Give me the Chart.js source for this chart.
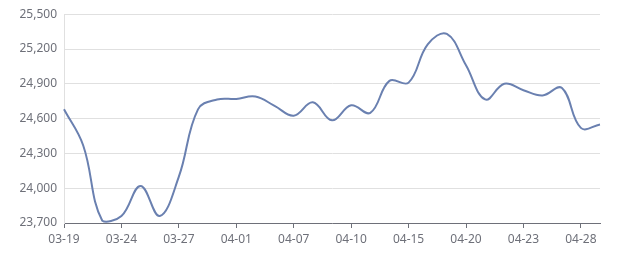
<!DOCTYPE html>
<html>
<head>
<meta charset="utf-8">
<script src="https://cdn.jsdelivr.net/npm/chart.js@4/dist/chart.umd.min.js"></script>
<style>
  html, body { margin: 0; padding: 0; background: #fff; }
  #wrap { width: 640px; height: 270px; position: relative; }
</style>
</head>
<body>
<div id="wrap"><canvas id="myChart"></canvas></div>
<script>
var dates = ["03-19", "03-20", "03-21", "03-24", "03-25", "03-26", "03-27", "03-28", "03-31",
  "04-01", "04-02", "04-03", "04-07", "04-08", "04-09", "04-10", "04-11", "04-14", "04-15",
  "04-16", "04-17", "04-20", "04-21", "04-22", "04-23", "04-24", "04-25", "04-28", "04-29"];
var prices = [24680, 24370, 23720, 23760, 24020, 23760, 24100, 24680, 24765,
  24770, 24790, 24710, 24625, 24740, 24585, 24715, 24650, 24925, 24910,
  25240, 25330, 25060, 24765, 24900, 24845, 24800, 24865, 24520, 24550];
var yMin = 23700;
var yMax = 25500;
var yStep = 300;
var labelEvery = 3;

Chart.defaults.font.family = "'Noto Sans', 'DejaVu Sans', sans-serif";
Chart.defaults.font.size = 12;
Chart.defaults.color = '#6e7079';

var ctx = document.getElementById('myChart').getContext('2d');

var myChart = new Chart(ctx, {
  type: 'line',
  data: {
    labels: dates,
    datasets: [{
      label: 'price',
      data: prices,
      borderColor: '#6a80b0',
      borderWidth: 2,
      pointRadius: 0,
      pointHoverRadius: 0,
      fill: false,
      tension: 0.4
    }]
  },
  options: {
    responsive: true,
    maintainAspectRatio: false,
    animation: false,
    layout: {
      padding: { top: 10, right: 40, left: 0, bottom: 0 }
    },
    plugins: {
      legend: { display: false },
      tooltip: { enabled: false }
    },
    scales: {
      x: {
        afterFit: function(scale) { scale.height = 47; },
        grid: {
          drawOnChartArea: false,
          drawTicks: true,
          tickLength: 5,
          color: '#6e7079'
        },
        border: { display: true, color: '#6e7079', width: 1 },
        ticks: {
          autoSkip: false,
          maxRotation: 0,
          padding: 4,
          color: '#6e7079',
          callback: function(value, index) {
            return index % labelEvery === 0 ? dates[index] : null;
          }
        }
      },
      y: {
        min: yMin,
        max: yMax,
        afterFit: function(scale) { scale.width = 64; },
        grid: {
          color: '#e0e0e0',
          drawTicks: false
        },
        border: { display: true, color: '#e0e0e0' },
        ticks: {
          stepSize: yStep,
          padding: 7,
          color: '#6e7079',
          callback: function(value) {
            return value.toLocaleString('en-US');
          }
        }
      }
    }
  }
});
</script>
</body>
</html>
